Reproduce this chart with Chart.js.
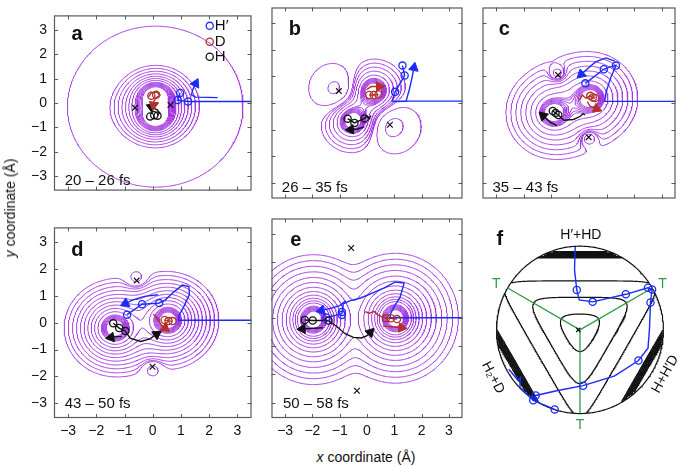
<!DOCTYPE html>
<html>
<head>
<meta charset="utf-8">
<script src="https://cdn.jsdelivr.net/npm/chart.js@4.4.1/dist/chart.umd.min.js"></script>
<style>
  body { margin: 0; background: #fff; }
  #wrap { position: relative; width: 685px; height: 466px; overflow: hidden; font-family: "Liberation Sans", Arial, sans-serif; }
  #wrap canvas { position: absolute; }
  .axtitle { position: absolute; font-size: 14px; color: #111; white-space: nowrap; }
</style>
</head>
<body>
<div id="wrap">
  <canvas id="pa" width="258" height="206" style="left:0;top:0"></canvas>
  <canvas id="pb" width="204" height="204" style="left:265px;top:1px"></canvas>
  <canvas id="pc" width="206" height="204" style="left:476px;top:1px"></canvas>
  <canvas id="pd" width="258" height="228" style="left:0;top:212px"></canvas>
  <canvas id="pe" width="204" height="228" style="left:265px;top:212px"></canvas>
  <canvas id="pf" width="206" height="228" style="left:476px;top:212px"></canvas>
  <div class="axtitle" style="left:10px;top:208px;transform:translate(-50%,-50%) rotate(-90deg)"><i>y</i> coordinate (Å)</div>
  <div class="axtitle" style="left:366px;top:457px;transform:translate(-50%,-50%)"><i>x</i> coordinate (Å)</div>
</div>
<script>
// ---- axis ranges (Å) and tick labels ----
const xRange = [-3.5, 3.5];
const yRangeTop = [-3.6, 3.6];
const yRangeBottom = [-3.55, 3.55];
const tickValues = [-3, -2, -1, 0, 1, 2, 3];

// contour levels written as "equivalent radius" from an atom (Å)
const denseRings = [0.3, 0.33, 0.36, 0.39, 0.42, 0.45, 0.48];

// ---- a: 20 - 26 fs ----
const aAtoms = [[0.1, 0.3], [0.1, -0.6]];
const aWells = [[-0.63, -0.2, -0.06, 1.0], [0.63, -0.08, -0.06, 1.0]];
const aLambda = 0.45;
const aLevels = [0.27, 0.3, 0.33, 0.36, 0.39, 0.42, 0.45, 0.53, 0.61, 0.7, 0.8, 0.91, 1.03, 1.16, 2.8];
const aSaddles = [[-0.63, -0.2], [0.63, -0.08]];
const aBluePath = [[3.6, 0.06], [1.25, 0.06], [0.88, 0.12], [0.97, 0.41]];
const aBlueMarks = [[1.25, 0.06], [0.88, 0.12], [0.97, 0.41]];
const aBlueArrow = [[2.3, 0.22], [1.52, 0.24], [1.37, 0.33], [1.42, 0.56], [1.52, 0.8]];
const aRedArrow = [[-0.15, 0.25], [-0.05, 0.42], [0.15, 0.45], [0.25, 0.32], [0.12, 0.22], [0.05, 0.1], [0.03, -0.08]];
const aRedMarks = [[-0.05, 0.3], [0.12, 0.34]];
const aBlackMarks = [[-0.09, -0.55], [0.05, -0.5], [0.17, -0.52]];
const aBlackArrow = [[0.17, -0.52], [0.24, -0.4], [0.16, -0.28], [-0.05, -0.17]];
const legendNames = ['H\u2032', 'D', 'H'];
const legendY = [3.17, 2.52, 1.9];

// ---- b: 26 - 35 fs ----
const bAtoms = [[0.23, 0.45], [-0.52, -0.67]];
const bWells = [[-1.03, 0.45, 0.2, 0.8], [0.84, -0.82, 0.2, 0.8]];
const bLambda = 0.4;
const bLevels = [0.6, 0.75, 0.9, 1.05, 1.2];
const bNegLevels = [-0.02, -0.115];
const bSaddles = [[-1.03, 0.45], [0.84, -0.82]];
const bBluePath = [[3.6, 0.07], [0.92, 0.07], [1.03, 0.42], [1.38, 1.04], [1.3, 1.41]];
const bBlueMarks = [[1.03, 0.42], [1.38, 1.04], [1.3, 1.41]];
const bBlueArrow = [[0.95, 0.05], [1.43, 0.06], [1.55, 0.5], [1.65, 0.95], [1.72, 1.33]];
const bRedPath = [[0.08, 0.3], [0.25, 0.3], [0.42, 0.32]];
const bRedMarks = [[0.08, 0.3], [0.25, 0.3], [0.42, 0.32]];
const bRedArrow = [[-0.02, 0.5], [0.15, 0.62], [0.45, 0.62]];
const bBlackPath = [[-0.71, -0.59], [-0.46, -0.75], [-0.09, -0.58], [0.02, -0.5], [0.08, -0.6], [0.14, -0.48]];
const bBlackMarks = [[-0.71, -0.59], [-0.46, -0.75], [-0.09, -0.58]];
const bBlackArrow = [[-0.1, -0.9], [-0.35, -0.98], [-0.6, -1.0]];

// ---- c: 35 - 43 fs ----
const cAtoms = [[0.41, 0.18], [-0.93, -0.37]];
const cWells = [[-0.76, 1.06, 0.1, 0.3], [0.35, -1.29, 0.1, 0.3]];
const cLambda = 0.45;
const cLevels = [0.62, 0.8, 0.98, 1.16, 1.34, 1.52, 1.7];
const cNegLevels = [-0.006];
const cSaddles = [[-0.76, 1.06], [0.35, -1.29]];
const cBluePath = [[3.6, 0.06], [0.93, 0.06], [0.98, 0.4], [1.15, 0.95], [1.34, 1.41], [1.12, 1.36], [0.9, 1.27], [0.23, 0.74]];
const cBlueMarks = [[1.34, 1.41], [0.9, 1.27], [0.23, 0.74]];
const cBlueArrow = [[1.3, 1.58], [0.98, 1.7], [0.6, 1.55], [0.3, 1.28], [0.08, 1.08]];
const cRedPath = [[0.02, 0.12], [0.12, 0.3], [0.25, 0.18], [0.41, 0.27], [0.5, 0.21], [0.58, 0.19]];
const cRedMarks = [[0.41, 0.27], [0.5, 0.21], [0.58, 0.19]];
const cRedArrow = [[0.3, 0.05], [0.4, -0.12], [0.64, -0.22]];
const cBlackPath = [[-0.95, -0.3], [-0.75, -0.45], [-0.55, -0.65], [-0.2, -0.62], [0.05, -0.5], [0.15, -0.4], [0.22, -0.45]];
const cBlackMarks = [[-0.95, -0.3], [-0.85, -0.38], [-0.75, -0.45]];
const cBlackArrow = [[-0.8, -0.85], [-1.05, -0.72], [-1.3, -0.48]];

// ---- d: 43 - 50 fs ----
const dAtoms = [[0.54, 0.09], [-1.34, -0.2]];
const dWells = [[-0.57, 1.62, 0.015, 0.35], [-0.01, -1.7, 0.015, 0.35]];
const dLambda = 0.35;
const dLevels = [0.6, 0.72, 0.84, 0.96, 1.09, 1.22, 1.36, 1.5, 1.65, 1.8];
const dNegLevels = [-0.004];
const dSaddles = [[-0.57, 1.57], [-0.01, -1.64]];
const dBluePath = [[3.6, 0.09], [0.93, 0.09], [0.92, 0.25], [1.1, 0.6], [1.3, 1.05], [1.28, 1.35], [1.05, 1.4], [0.75, 1.15], [0.45, 0.85], [0.23, 0.73], [-0.38, 0.69], [-0.91, 0.3]];
const dBlueMarks = [[0.23, 0.73], [-0.38, 0.69], [-0.91, 0.3]];
const dBlueArrow = [[0.19, 1.04], [-0.3, 0.98], [-0.7, 0.85], [-0.97, 0.72]];
const dRedPath = [[0.42, 0.1], [0.56, 0.06], [0.7, 0.06]];
const dRedMarks = [[0.42, 0.1], [0.56, 0.06], [0.7, 0.06]];
const dRedArrow = [[0.02, 0.32], [0.18, 0.12], [0.3, -0.08], [0.44, -0.2]];
const dBlackPath = [[-1.4, -0.02], [-1.19, -0.2], [-0.97, -0.31]];
const dBlackMarks = [[-1.4, -0.02], [-1.19, -0.2], [-0.97, -0.31]];
const dBlackCurve = [[-0.97, -0.31], [-0.8, -0.58], [-0.43, -0.7], [-0.1, -0.6], [0.14, -0.43]];
const dBlackArrow = [[-1.1, -0.52], [-1.3, -0.52], [-1.48, -0.55]];

// ---- e: 50 - 58 fs ----
const eAtoms = [[1.04, 0], [-1.96, -0.05]];
const eWells = [];
const eLambda = 0.2;
const eLevels = [0.59, 0.67, 0.76, 0.87, 1.0, 1.15, 1.32, 1.5, 1.7, 1.9, 2.1, 2.31];
const eSaddles = [[-0.58, 2.5], [-0.37, -2.58]];
const eBluePath = [[3.6, 0.02], [0.86, 0.02], [0.85, 0.14], [1.0, 0.42], [1.21, 0.74], [1.36, 1.25], [1.04, 1.29], [0.63, 1.08], [0.23, 0.91], [-0.23, 0.72], [-0.64, 0.62], [-0.87, 0.51], [-0.92, 0.16], [-1.48, 0.02]];
const eBlueMarks = [[-0.92, 0.22], [-0.92, 0.12], [-1.48, 0.02]];
const eBlueArrow = [[-0.78, 0.62], [-1.0, 0.45], [-1.3, 0.36], [-1.67, 0.28]];
const eRedPath = [[-0.06, 0.23], [0.1, 0.18], [0.25, 0.25], [0.4, 0.12], [0.55, 0.05], [0.69, 0], [0.87, 0], [1.1, -0.03]];
const eRedMarks = [[0.69, 0], [0.87, 0], [1.1, -0.03]];
const eRedArrow = [[0.58, -0.28], [0.9, -0.3], [1.27, -0.34]];
const eBlackCurve = [[-2.28, -0.06], [-1.99, -0.08], [-1.41, -0.08], [-1.1, -0.3], [-0.8, -0.55], [-0.5, -0.68], [-0.2, -0.7], [0.0, -0.62], [0.12, -0.5]];
const eBlackMarks = [[-2.28, -0.06], [-1.99, -0.08], [-1.41, -0.08]];
const eBlackArrow = [[-1.62, -0.34], [-2.0, -0.36], [-2.37, -0.38]];

// ---- f: hyperspherical view ----
const fRange = { x: [-1.182, 1.159], y: [-1.053, 1.345] };
const fRadius = 1;
const fExitAngles = [90, 210, 330];
const fSharpness = 10;
const fLevels = [0.2, 0.39, 0.585, 0.86, 0.875, 0.89, 0.905, 0.92, 0.935];
const fTransition = [[-0.866, 0.5], [0.866, 0.5], [0, -1]];
const fBluePath = [[-0.057, 0.99], [-0.065, 0.717], [-0.038, 0.476], [-0.008, 0.359], [0.152, 0.335], [0.549, 0.425], [0.815, 0.503], [0.864, 0.483], [0.845, 0.327], [0.833, 0.015], [0.815, -0.219], [0.701, -0.366], [0.417, -0.55], [0.038, -0.667], [-0.265, -0.725], [-0.53, -0.784], [-0.56, -0.842], [-0.303, -0.951]];
const fBlueBranch = [[-0.852, -0.471], [-0.739, -0.608], [-0.712, -0.57], [-0.72, -0.687], [-0.56, -0.842]];
const fBlueMarks = [[-0.038, 0.476], [0.152, 0.335], [0.549, 0.425], [0.815, 0.503], [0.864, 0.483], [0.845, 0.327], [0.701, -0.366], [0.038, -0.667], [-0.53, -0.784], [-0.56, -0.842], [-0.303, -0.951]];

const PURPLE = '#a53ce2', BLUE = '#1a2cf5', RED = '#b3302b', BLACK = '#111111', GREEN = '#2e9b47', FRAME = '#5a5a5a';
const GAP = { x: NaN, y: NaN };

Chart.defaults.font.family = "'Liberation Sans', Arial, sans-serif";
Chart.defaults.color = '#111';

// potential: repulsive atoms minus gaussian wells
function fieldOf(atoms, wells, lam) {
  return (x, y) => {
    let v = 0;
    for (const [ax, ay] of atoms) v += Math.exp(-Math.hypot(x - ax, y - ay) / lam);
    for (const [wx, wy, depth, w] of wells) v -= depth * Math.exp(-((x - wx) ** 2 + (y - wy) ** 2) / (w * w));
    return v;
  };
}

// marching squares, segments chained into polylines, NaN between lines
function contours(fn, box, n, levels) {
  const [x0, x1, y0, y1] = box;
  const dx = (x1 - x0) / n, dy = (y1 - y0) / n;
  const g = [];
  for (let j = 0; j <= n; j++) {
    const row = new Float64Array(n + 1);
    for (let i = 0; i <= n; i++) row[i] = fn(x0 + i * dx, y0 + j * dy);
    g.push(row);
  }
  const out = [];
  for (const L of levels) {
    const pt = new Map(), adj = new Map();
    const cross = (key, xa, ya, va, xb, yb, vb) => {
      if (!pt.has(key)) {
        const t = (L - va) / (vb - va);
        pt.set(key, { x: xa + t * (xb - xa), y: ya + t * (yb - ya) });
      }
      return key;
    };
    const link = (a, b) => {
      if (!adj.has(a)) adj.set(a, []);
      if (!adj.has(b)) adj.set(b, []);
      adj.get(a).push(b);
      adj.get(b).push(a);
    };
    for (let j = 0; j < n; j++) {
      for (let i = 0; i < n; i++) {
        const v00 = g[j][i], v10 = g[j][i + 1], v11 = g[j + 1][i + 1], v01 = g[j + 1][i];
        if (!(isFinite(v00) && isFinite(v10) && isFinite(v11) && isFinite(v01))) continue;
        const c = (v00 > L ? 1 : 0) | (v10 > L ? 2 : 0) | (v11 > L ? 4 : 0) | (v01 > L ? 8 : 0);
        if (c === 0 || c === 15) continue;
        const xa = x0 + i * dx, xb = xa + dx, ya = y0 + j * dy, yb = ya + dy;
        const B = () => cross('h' + i + '_' + j, xa, ya, v00, xb, ya, v10);
        const R = () => cross('v' + (i + 1) + '_' + j, xb, ya, v10, xb, yb, v11);
        const T = () => cross('h' + i + '_' + (j + 1), xa, yb, v01, xb, yb, v11);
        const Lf = () => cross('v' + i + '_' + j, xa, ya, v00, xa, yb, v01);
        if (c === 5 || c === 10) {
          const mid = (v00 + v10 + v11 + v01) / 4 > L;
          if ((c === 5) === mid) { link(B(), R()); link(T(), Lf()); }
          else { link(B(), Lf()); link(T(), R()); }
          continue;
        }
        const hits = [];
        if ((c & 1) !== ((c >> 1) & 1)) hits.push(B());
        if (((c >> 1) & 1) !== ((c >> 2) & 1)) hits.push(R());
        if (((c >> 2) & 1) !== ((c >> 3) & 1)) hits.push(T());
        if (((c >> 3) & 1) !== (c & 1)) hits.push(Lf());
        link(hits[0], hits[1]);
      }
    }
    const seen = new Set();
    const walk = start => {
      const line = [];
      let prev = null, cur = start;
      while (cur !== undefined && !seen.has(cur)) {
        seen.add(cur);
        line.push(pt.get(cur));
        const nb = adj.get(cur).filter(k => k !== prev && !seen.has(k));
        prev = cur;
        cur = nb[0];
      }
      if (line.length > 2 && adj.get(prev).includes(start)) line.push(pt.get(start));
      out.push(...line, GAP);
    };
    for (const [k, nb] of adj) if (nb.length === 1 && !seen.has(k)) walk(k);
    for (const k of adj.keys()) if (!seen.has(k)) walk(k);
  }
  return out;
}

const GRID_BOX = [-3.6, 3.6, -3.7, 3.7];
function panelContours(atoms, wells, lam, levels, negLevels) {
  const lv = levels.map(r => Math.exp(-r / lam)).concat(negLevels || []);
  return contours(fieldOf(atoms, wells, lam), GRID_BOX, 220, lv);
}

const toXY = pts => pts.map(([x, y]) => ({ x, y }));

function contourSet(data, color, width) {
  return { data, showLine: true, borderColor: color, borderWidth: width, pointRadius: 0, spanGaps: false, order: 10 };
}
function lineSet(pts, color) {
  return { data: toXY(pts), showLine: true, borderColor: color, borderWidth: 1.4, pointRadius: 0, order: 3 };
}
function arrowSet(pts, color) {
  const n = pts.length;
  return {
    data: toXY(pts), showLine: true, borderColor: color, borderWidth: 1.4, order: 3,
    pointStyle: 'triangle', pointBackgroundColor: color, pointBorderColor: color, pointBorderWidth: 1,
    pointRadius: c => (c.dataIndex === n - 1 ? 5.5 : 0),
    rotation: c => {
      const sx = c.chart.scales.x, sy = c.chart.scales.y;
      const ddx = sx.getPixelForValue(pts[n - 1][0]) - sx.getPixelForValue(pts[n - 2][0]);
      const ddy = sy.getPixelForValue(pts[n - 1][1]) - sy.getPixelForValue(pts[n - 2][1]);
      return Math.atan2(ddx, -ddy) * 180 / Math.PI;
    }
  };
}
function markerSet(pts, color) {
  return {
    data: toXY(pts), showLine: false, pointStyle: 'circle', pointRadius: 3.6, pointBorderWidth: 1.3,
    pointBorderColor: color, pointBackgroundColor: 'rgba(255,255,255,0)', order: 1
  };
}
function crossSet(pts, r) {
  return { data: toXY(pts), showLine: false, pointStyle: 'crossRot', pointRadius: r || 4, pointBorderWidth: 1.2, pointBorderColor: BLACK, order: 2 };
}

// frame and inward tick marks on all four sides
const innerFrame = {
  id: 'innerFrame',
  afterDraw(chart, args, opts) {
    if (!opts.show) return;
    const { ctx, chartArea: a, scales: { x, y } } = chart;
    ctx.save();
    ctx.strokeStyle = FRAME;
    ctx.lineWidth = 1;
    ctx.beginPath();
    tickValues.forEach(v => {
      const px = Math.round(x.getPixelForValue(v)) + 0.5;
      ctx.moveTo(px, a.top); ctx.lineTo(px, a.top + 4);
      ctx.moveTo(px, a.bottom); ctx.lineTo(px, a.bottom - 4);
      const py = Math.round(y.getPixelForValue(v)) + 0.5;
      ctx.moveTo(a.left, py); ctx.lineTo(a.left + 4, py);
      ctx.moveTo(a.right, py); ctx.lineTo(a.right - 4, py);
    });
    ctx.stroke();
    ctx.lineWidth = 1.2;
    ctx.strokeRect(a.left + 0.5, a.top + 0.5, a.width - 1, a.height - 1);
    ctx.restore();
  }
};

// text placed in data coordinates
const panelText = {
  id: 'panelText',
  afterDatasetsDraw(chart, args, opts) {
    const { ctx, scales: { x, y } } = chart;
    (opts.items || []).forEach(it => {
      ctx.save();
      ctx.font = it.font || '15px "Liberation Sans", Arial, sans-serif';
      ctx.fillStyle = it.color || '#111';
      ctx.textAlign = it.align || 'left';
      ctx.textBaseline = it.base || 'alphabetic';
      ctx.translate(x.getPixelForValue(it.x), y.getPixelForValue(it.y));
      if (it.rot) ctx.rotate(it.rot * Math.PI / 180);
      ctx.fillText(it.t, 0, 0);
      ctx.restore();
    });
  }
};
Chart.register(innerFrame, panelText);

function axis(r, show, dir) {
  return {
    type: 'linear', min: r[0], max: r[1], display: !!show,
    grid: { display: false, drawTicks: false }, border: { display: false },
    ticks: {
      font: { size: 14 }, color: '#111', padding: dir === 'x' ? 5 : 7, maxRotation: 0, autoSkip: false,
      callback: v => (v < 0 ? '\u2212' + (-v) : String(v))
    },
    afterBuildTicks: s => { s.ticks = tickValues.map(value => ({ value })); },
    afterFit: s => {
      if (!show) return;
      if (dir === 'x') s.height = 22; else s.width = 54;
    }
  };
}

function makeChart(id, cfg) {
  return new Chart(document.getElementById(id), {
    type: 'scatter',
    data: { datasets: cfg.datasets },
    options: {
      responsive: false, animation: false, events: [], devicePixelRatio: 1,
      layout: { padding: cfg.padding },
      scales: { x: axis(cfg.xr, cfg.showX, 'x'), y: axis(cfg.yr, cfg.showY, 'y') },
      plugins: {
        legend: { display: false }, tooltip: { enabled: false },
        innerFrame: { show: cfg.frame !== false },
        panelText: { items: cfg.texts }
      }
    }
  });
}

const LETTER = 'bold 20px "Liberation Sans", Arial, sans-serif';
const SMALL = '15px "Liberation Sans", Arial, sans-serif';
const F14 = '14px "Liberation Sans", Arial, sans-serif';

// a
makeChart('pa', {
  xr: xRange, yr: yRangeTop, showY: true, padding: { top: 1, bottom: 1, left: 0, right: 0 },
  datasets: [
    contourSet(panelContours(aAtoms, aWells, aLambda, aLevels), PURPLE, 1),
    lineSet(aBluePath, BLUE), arrowSet(aBlueArrow, BLUE), markerSet(aBlueMarks, BLUE),
    arrowSet(aRedArrow, RED), markerSet(aRedMarks, RED),
    arrowSet(aBlackArrow, BLACK), markerSet(aBlackMarks, BLACK),
    crossSet(aSaddles),
    { data: legendY.map(y => ({ x: 2.02, y })), showLine: false, pointStyle: 'circle', pointRadius: 3.6, pointBorderWidth: 1.3,
      pointBorderColor: [BLUE, RED, BLACK], pointBackgroundColor: 'rgba(255,255,255,0)', order: 0 }
  ],
  texts: [
    { t: 'a', x: -2.88, y: 2.58, font: LETTER },
    { t: '20 \u2013 26 fs', x: -3.12, y: -3.36, font: SMALL },
    ...legendNames.map((t, i) => ({ t, x: 2.2, y: legendY[i], font: SMALL, base: 'middle' }))
  ]
});

// b
makeChart('pb', {
  xr: xRange, yr: yRangeTop, padding: 0,
  datasets: [
    contourSet(panelContours(bAtoms, bWells, bLambda, denseRings.concat(bLevels), bNegLevels), PURPLE, 1),
    lineSet(bBluePath, BLUE), arrowSet(bBlueArrow, BLUE), markerSet(bBlueMarks, BLUE),
    lineSet(bRedPath, RED), arrowSet(bRedArrow, RED), markerSet(bRedMarks, RED),
    lineSet(bBlackPath, BLACK), arrowSet(bBlackArrow, BLACK), markerSet(bBlackMarks, BLACK),
    crossSet(bSaddles)
  ],
  texts: [
    { t: 'b', x: -2.87, y: 2.58, font: LETTER },
    { t: '26 \u2013 35 fs', x: -3.12, y: -3.36, font: SMALL }
  ]
});

// c
makeChart('pc', {
  xr: xRange, yr: yRangeTop, padding: 0,
  datasets: [
    contourSet(panelContours(cAtoms, cWells, cLambda, denseRings.concat(cLevels), cNegLevels), PURPLE, 1),
    lineSet(cBluePath, BLUE), arrowSet(cBlueArrow, BLUE), markerSet(cBlueMarks, BLUE),
    lineSet(cRedPath, RED), arrowSet(cRedArrow, RED), markerSet(cRedMarks, RED),
    lineSet(cBlackPath, BLACK), arrowSet(cBlackArrow, BLACK), markerSet(cBlackMarks, BLACK),
    crossSet(cSaddles)
  ],
  texts: [
    { t: 'c', x: -2.91, y: 2.58, font: LETTER },
    { t: '35 \u2013 43 fs', x: -3.14, y: -3.36, font: SMALL }
  ]
});

// d
makeChart('pd', {
  xr: xRange, yr: yRangeBottom, showX: true, showY: true, padding: { top: 1, bottom: 0, left: 0, right: 0 },
  datasets: [
    contourSet(panelContours(dAtoms, dWells, dLambda, denseRings.concat(dLevels), dNegLevels), PURPLE, 1),
    lineSet(dBluePath, BLUE), arrowSet(dBlueArrow, BLUE), markerSet(dBlueMarks, BLUE),
    lineSet(dRedPath, RED), arrowSet(dRedArrow, RED), markerSet(dRedMarks, RED),
    lineSet(dBlackPath, BLACK), arrowSet(dBlackCurve, BLACK), arrowSet(dBlackArrow, BLACK), markerSet(dBlackMarks, BLACK),
    crossSet(dSaddles)
  ],
  texts: [
    { t: 'd', x: -2.89, y: 2.5, font: LETTER },
    { t: '43 \u2013 50 fs', x: -3.12, y: -3.17, font: SMALL }
  ]
});

// e
makeChart('pe', {
  xr: xRange, yr: yRangeBottom, showX: true, padding: { top: 1, bottom: 0, left: 0, right: 0 },
  datasets: [
    contourSet(panelContours(eAtoms, eWells, eLambda, denseRings.concat(eLevels)), PURPLE, 1),
    lineSet(eBluePath, BLUE), arrowSet(eBlueArrow, BLUE), markerSet(eBlueMarks, BLUE),
    lineSet(eRedPath, RED), arrowSet(eRedArrow, RED), markerSet(eRedMarks, RED),
    arrowSet(eBlackCurve, BLACK), arrowSet(eBlackArrow, BLACK), markerSet(eBlackMarks, BLACK),
    crossSet(eSaddles)
  ],
  texts: [
    { t: 'e', x: -2.81, y: 2.56, font: LETTER },
    { t: '50 \u2013 58 fs', x: -3.08, y: -3.21, font: SMALL }
  ]
});

// f
const fField = (x, y) => {
  if (Math.hypot(x, y) > fRadius) return NaN;
  let s = 0;
  for (const a of fExitAngles) {
    const r = a * Math.PI / 180;
    s += Math.exp(fSharpness * (x * Math.cos(r) + y * Math.sin(r)));
  }
  return Math.log(s) / fSharpness;
};
const fRing = [];
for (let i = 0; i <= 360; i++) {
  const t = i * Math.PI / 180;
  fRing.push({ x: fRadius * Math.cos(t), y: fRadius * Math.sin(t) });
}
const fGreen = [];
fTransition.forEach(([x, y]) => fGreen.push({ x: 0, y: 0 }, { x, y }, GAP));

makeChart('pf', {
  xr: fRange.x, yr: fRange.y, frame: false, padding: { top: 1, bottom: 22, left: 0, right: 0 },
  datasets: [
    contourSet(contours(fField, [-1.05, 1.05, -1.05, 1.05], 180, fLevels).concat([GAP], fRing), BLACK, 1.2),
    { data: fGreen, showLine: true, borderColor: GREEN, borderWidth: 1.3, pointRadius: 0, spanGaps: false, order: 5 },
    lineSet(fBluePath, BLUE), lineSet(fBlueBranch, BLUE), markerSet(fBlueMarks, BLUE),
    crossSet([[-0.02, 0]], 3)
  ],
  texts: [
    { t: 'f', x: -1.0, y: 1.01, font: LETTER },
    { t: 'H\u2032+HD', x: 0.011, y: 1.134, font: F14, align: 'center', base: 'middle' },
    { t: 'T', x: -1.003, y: 0.55, font: F14, color: GREEN, align: 'center', base: 'middle' },
    { t: 'T', x: 0.989, y: 0.55, font: F14, color: GREEN, align: 'center', base: 'middle' },
    { t: 'T', x: 0, y: -1.134, font: F14, color: GREEN, align: 'center', base: 'middle' },
    { t: 'H\u2082+D', x: -1.042, y: -0.57, font: F14, align: 'center', base: 'middle', rot: 63 },
    { t: 'H+H\u2032D', x: 1.023, y: -0.53, font: F14, align: 'center', base: 'middle', rot: -61 }
  ]
});
</script>
</body>
</html>
